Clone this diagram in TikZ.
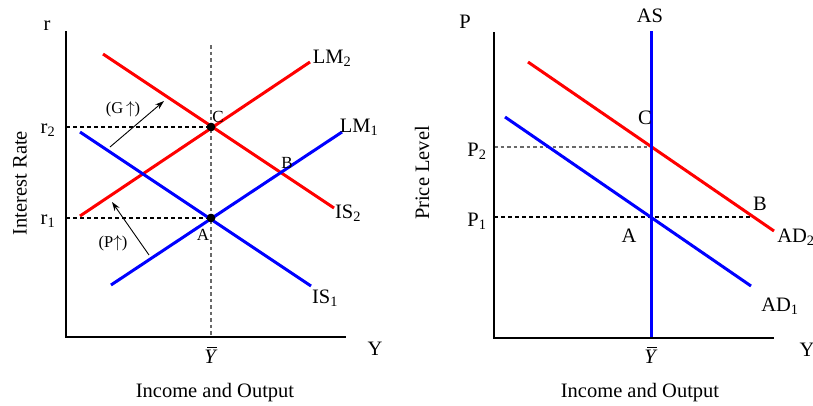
\documentclass[tikz,border=0pt]{standalone}
\usepackage{fontspec}
\setmainfont{Liberation Serif}
\usetikzlibrary{arrows.meta}
\definecolor{guidegray}{RGB}{105,105,105}
\tikzset{
  axis/.style={line width=2.3pt, black},
  redline/.style={line width=3pt, red},
  blueline/.style={line width=3pt, blue},
  guide/.style={line width=1.1pt, black, dash pattern=on 4pt off 3pt},
  gguide/.style={line width=1.3pt, guidegray, dash pattern=on 3.5pt off 3pt},
  shiftarrow/.style={line width=0.9pt, -{Stealth[length=9pt,width=6pt]}},
  lbl/.style={font=\fontsize{20.5}{20.5}\selectfont, inner sep=0pt},
  slbl/.style={font=\fontsize{17}{17}\selectfont, inner sep=0pt},
  tlbl/.style={font=\fontsize{16.5}{16.5}\selectfont, inner sep=0pt},
  dot/.style={circle, fill=black, inner sep=0pt, minimum size=8.5pt}
}
\newcommand{\ybarlbl}{\textit{Y}\llap{\rule[15.5pt]{9.5pt}{0.9pt}\hspace{1pt}}}
\newcommand{\uparr}{$\uparrow$}
\begin{document}
\begin{tikzpicture}[x=1pt,y=-1pt]
\useasboundingbox (0,0) rectangle (813,405);
% ---------------- left panel ----------------
\coordinate (lO) at (66,337);
\coordinate (lTop) at (66,31);
\coordinate (lRight) at (346,337);
\coordinate (ybTop) at (211,45);
\coordinate (ybBot) at (211,337);
\coordinate (r2L) at (66,127);
\coordinate (r1L) at (66,218);
\node[dot] (C) at (211,127) {};
\node[dot] (A) at (211,218) {};
\draw[gguide] (ybTop) -- (ybBot);
\draw[guide] (r2L) -- (C.center);
\draw[guide] (r1L) -- (A.center);
\coordinate (lm2a) at (80,216); \coordinate (lm2b) at (310,62);
\coordinate (lm1a) at (111,285); \coordinate (lm1b) at (342,132);
\coordinate (is2a) at (103,54); \coordinate (is2b) at (334,208);
\coordinate (is1a) at (80,132); \coordinate (is1b) at (311,286);
\draw[redline] (lm2a) -- (lm2b);
\draw[redline] (is2a) -- (is2b);
\draw[blueline] (lm1a) -- (lm1b);
\draw[blueline] (is1a) -- (is1b);
\node[dot] at (C) {};
\node[dot] at (A) {};
\draw[axis] (lTop) -- (lO) -- (lRight);
\coordinate (gA) at (110,147); \coordinate (gB) at (164,101);
\coordinate (pA) at (149,255); \coordinate (pB) at (112,202);
\draw[shiftarrow] (gA) -- (gB);
\draw[shiftarrow] (pA) -- (pB);
\node[tlbl] (gl) at (123,109) {(G\,\uparr)};
\node[tlbl] (pl) at (113,243) {(P\uparr)};
\node[lbl] (lmtwo) at (332,58) {LM\textsubscript{2}};
\node[lbl] (lmone) at (359,127) {LM\textsubscript{1}};
\node[lbl] (istwo) at (348,213) {IS\textsubscript{2}};
\node[lbl] (isone) at (325,298) {IS\textsubscript{1}};
\node[slbl] (Bl) at (287,163) {B};
\node[slbl] (Cl) at (218,117) {C};
\node[slbl] (Al) at (203,235) {A};
\node[lbl] (rl) at (47,26) {r};
\node[lbl] (r2l) at (48,130) {r\textsubscript{2}};
\node[lbl] (r1l) at (48,221) {r\textsubscript{1}};
\node[lbl, rotate=90] (irl) at (20,183) {Interest Rate};
\node[lbl] (yl) at (375,349) {Y};
\node[lbl] (ybl) at (211,355) {\ybarlbl};
\node[lbl] (iol) at (215,393) {Income and Output};
% ---------------- right panel ----------------
\coordinate (rO) at (494,338);
\coordinate (rTop) at (494,32);
\coordinate (rRight) at (774,338);
\coordinate (asTop) at (651,31);
\coordinate (asBot) at (651,338);
\coordinate (P2L) at (494,147);
\coordinate (P2R) at (651,147);
\coordinate (P1L) at (494,217);
\coordinate (P1R) at (753,217);
\draw[gguide] (P2L) -- (P2R);
\draw[guide] (P1L) -- (P1R);
\coordinate (ad2a) at (528,62); \coordinate (ad2b) at (774,231);
\coordinate (ad1a) at (505,117); \coordinate (ad1b) at (751,286);
\draw[redline] (ad2a) -- (ad2b);
\draw[blueline] (ad1a) -- (ad1b);
\draw[blueline] (asTop) -- (asBot);
\draw[axis] (rTop) -- (rO) -- (rRight);
\node[lbl] (asl) at (650,16) {AS};
\node[lbl] (Pl) at (465,22) {P};
\node[lbl] (p2l) at (477,151) {P\textsubscript{2}};
\node[lbl] (p1l) at (477,221) {P\textsubscript{1}};
\node[lbl] (Cr) at (645,118) {C};
\node[lbl] (Br) at (760,204) {B};
\node[lbl] (Ar) at (629,236) {A};
\node[lbl] (ad2l) at (796,237) {AD\textsubscript{2}};
\node[lbl] (ad1l) at (780,306) {AD\textsubscript{1}};
\node[lbl, rotate=90] (pll) at (422,173) {Price Level};
\node[lbl] (yr) at (807,350) {Y};
\node[lbl] (ybr) at (651,355) {\ybarlbl};
\node[lbl] (ior) at (640,393) {Income and Output};
\end{tikzpicture}
\end{document}
